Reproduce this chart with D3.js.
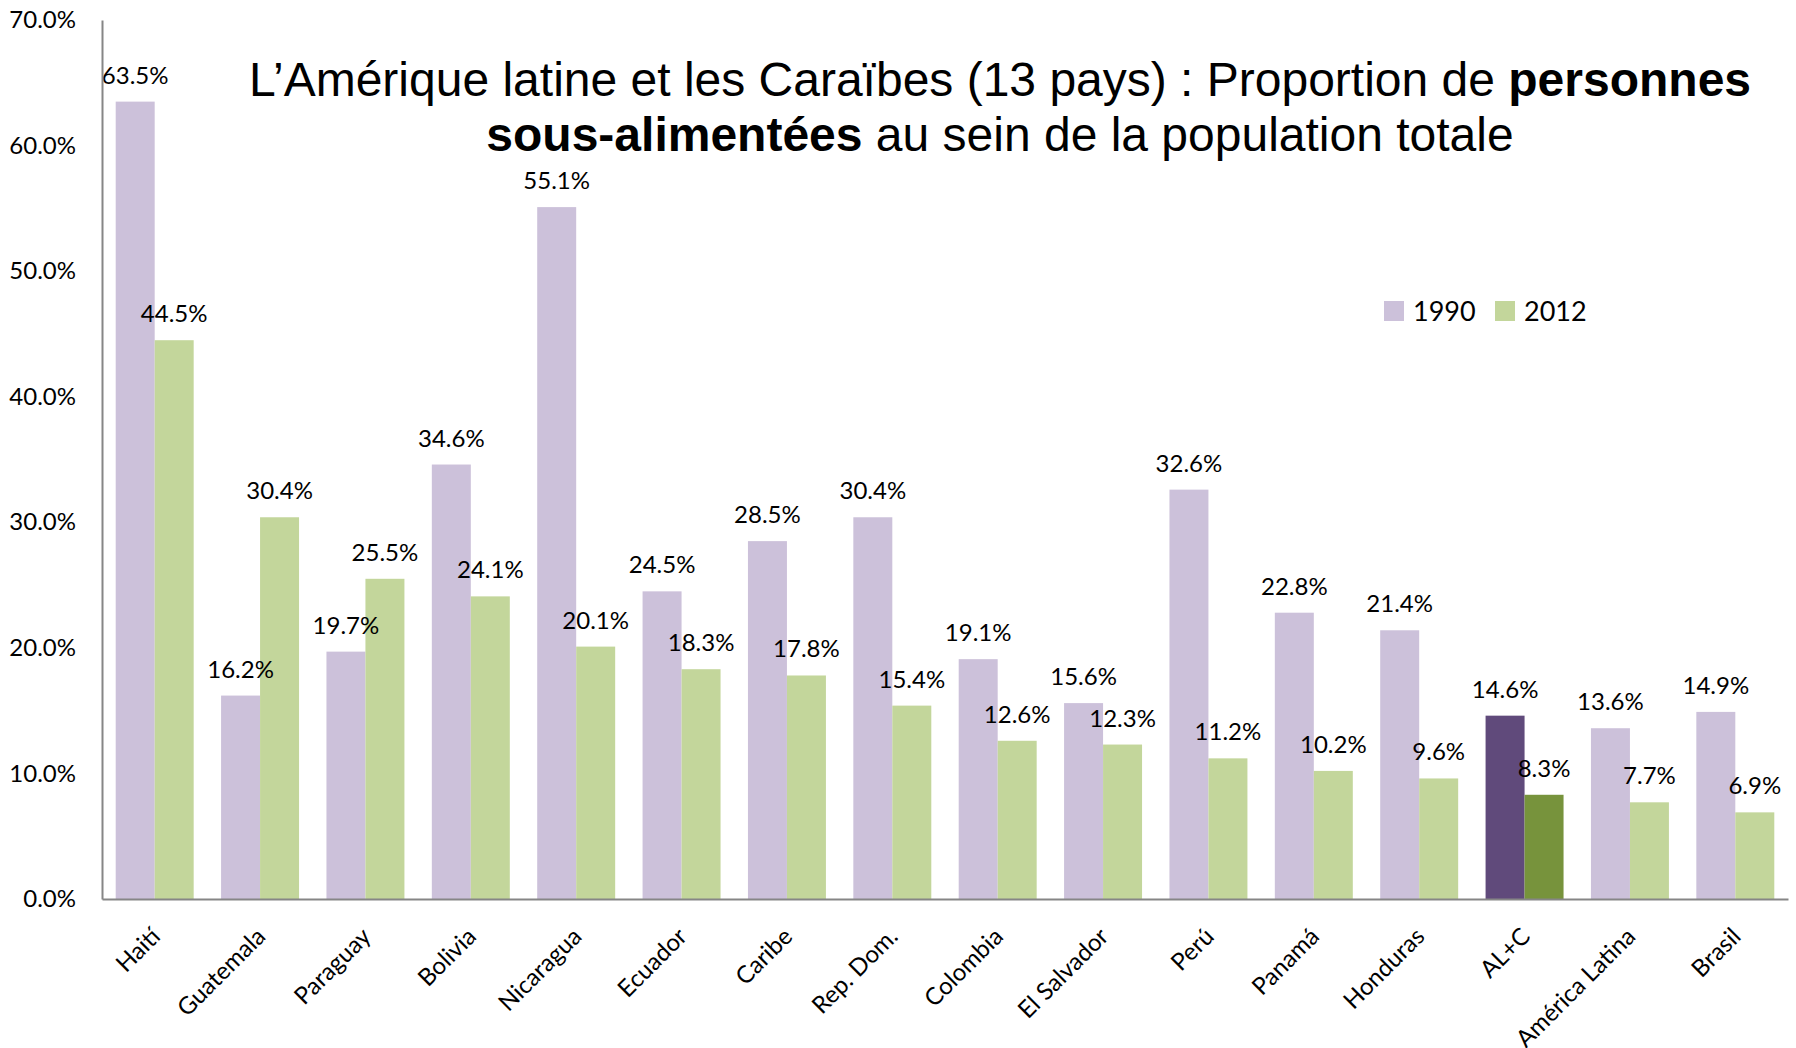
<!DOCTYPE html>
<html><head><meta charset="utf-8">
<script src="https://cdn.jsdelivr.net/npm/d3@7"></script>
<style>
html,body{margin:0;padding:0;background:#fff;}
svg{display:block;}
</style></head>
<body>
<svg id="chart" width="1796" height="1048"></svg>
<script>
const categories = ["Haití","Guatemala","Paraguay","Bolivia","Nicaragua","Ecuador","Caribe","Rep. Dom.","Colombia","El Salvador","Perú","Panamá","Honduras","AL+C","América Latina","Brasil"];
const values1990 = [63.5,16.2,19.7,34.6,55.1,24.5,28.5,30.4,19.1,15.6,32.6,22.8,21.4,14.6,13.6,14.9];
const values2012 = [44.5,30.4,25.5,24.1,20.1,18.3,17.8,15.4,12.6,12.3,11.2,10.2,9.6,8.3,7.7,6.9];
const seriesNames = ["1990","2012"];
const yTicks = [0,10,20,30,40,50,60,70];
const highlight = "AL+C";

const colors = {"1990":"#CCC1DA","2012":"#C3D69B"};
const colorsHi = {"1990":"#604A7B","2012":"#77933C"};
const font = "Lato, 'Open Sans', sans-serif";

const svg = d3.select("#chart");
const x0 = d3.scaleBand().domain(categories).range([102,1788]).paddingInner(0.26).paddingOuter(0.13);
const x1 = d3.scaleBand().domain(seriesNames).range([0,x0.bandwidth()]);
const y = d3.scaleLinear().domain([0,70]).range([899,20]);

const rows = categories.map((c,i)=>({cat:c, vals:[{s:"1990",v:values1990[i]},{s:"2012",v:values2012[i]}]}));

const g = svg.append("g");
const groups = g.selectAll("g.cat").data(rows).join("g").attr("class","cat")
  .attr("transform",d=>`translate(${x0(d.cat)},0)`);
groups.selectAll("rect").data(d=>d.vals.map(v=>({...v,cat:d.cat}))).join("rect")
  .attr("x",d=>x1(d.s)).attr("width",x1.bandwidth())
  .attr("y",d=>y(d.v)).attr("height",d=>y(0)-y(d.v))
  .attr("fill",d=>d.cat===highlight?colorsHi[d.s]:colors[d.s]);
groups.selectAll("text.val").data(d=>d.vals).join("text").attr("class","val")
  .attr("x",d=>x1(d.s)+x1.bandwidth()/2).attr("y",d=>y(d.v)-18)
  .attr("text-anchor","middle").attr("font-family",font).attr("font-size",24)
  .attr("fill","#000").text(d=>d3.format(".1f")(d.v)+"%");

// y axis
const yAxis = d3.axisLeft(y).tickValues(yTicks).tickSize(0).tickPadding(26)
  .tickFormat(d=>d3.format(".1f")(d)+"%");
const ya = svg.append("g").attr("transform","translate(102,0)").call(yAxis);
ya.select(".domain").attr("stroke","#868686").attr("stroke-width",2);
ya.selectAll("text").attr("font-family",font).attr("font-size",24).attr("fill","#000");

// x axis
const xAxis = d3.axisBottom(x0).tickSize(0).tickPadding(0);
const xa = svg.append("g").attr("transform","translate(0,899)").call(xAxis);
xa.select(".domain").attr("stroke","#868686").attr("stroke-width",2);
xa.selectAll("text").attr("font-family",font).attr("font-size",24).attr("fill","#000")
  .attr("text-anchor","end").attr("dy","0.35em")
  .attr("transform","translate(1,33) rotate(-45)").attr("y",0).attr("x",0);

// title
const tfont = "'Liberation Sans', Arial, sans-serif";
const l1 = svg.append("text").attr("x",1000).attr("y",96).attr("text-anchor","middle")
  .attr("font-family",tfont).attr("font-size",48).attr("fill","#000");
l1.append("tspan").text("L’Amérique latine et les Caraïbes (13 pays) : Proportion de ");
l1.append("tspan").attr("font-weight","bold").text("personnes");
const l2 = svg.append("text").attr("x",1000).attr("y",151).attr("text-anchor","middle")
  .attr("font-family",tfont).attr("font-size",48).attr("fill","#000");
l2.append("tspan").attr("font-weight","bold").text("sous-alimentées");
l2.append("tspan").text(" au sein de la population totale");

// legend
const legendX = [1384,1495];
const lg = svg.append("g").selectAll("g").data(seriesNames).join("g")
  .attr("transform",(d,i)=>`translate(${legendX[i]},301)`);
lg.append("rect").attr("width",20).attr("height",20).attr("fill",d=>colors[d]);
lg.append("text").attr("x",29).attr("y",20).attr("font-family",font).attr("font-size",27)
  .attr("fill","#000").text(d=>d);
</script>
</body></html>
